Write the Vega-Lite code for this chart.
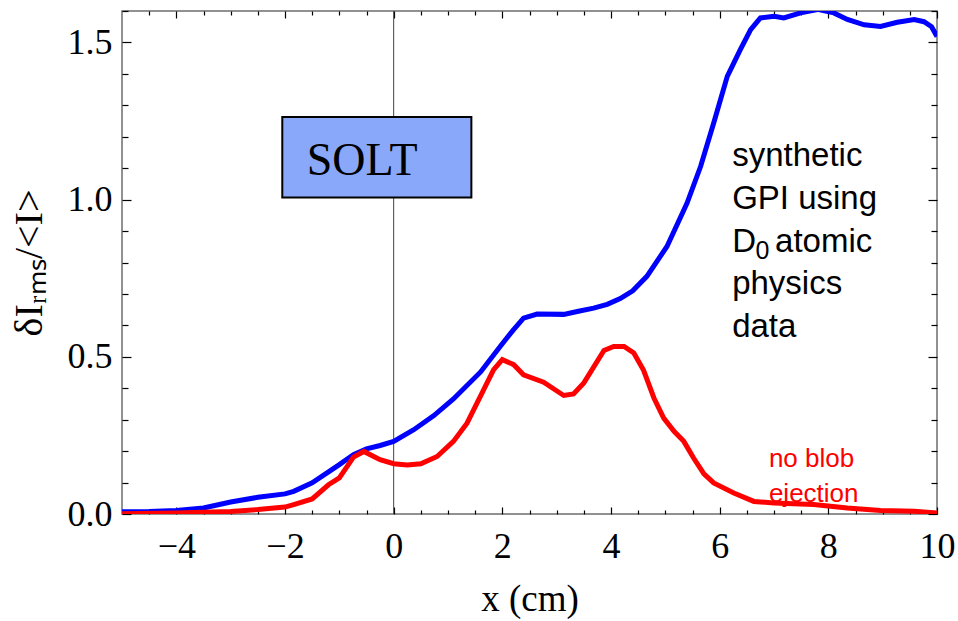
{
  "$schema": "https://vega.github.io/schema/vega-lite/v6.json",
  "width": 815,
  "height": 503,
  "autosize": {"type": "none"},
  "padding": {"left": 122, "top": 11, "right": 21, "bottom": 107},
  "background": "white",
  "config": {
    "view": {"stroke": "#6e6e6e", "strokeWidth": 1.5},
    "axis": {
      "domain": false,
      "grid": false,
      "tickColor": "black",
      "tickWidth": 1.2,
      "labelFont": "Liberation Serif",
      "labelFontSize": 36,
      "labelColor": "black",
      "titleFont": "Liberation Serif",
      "titleFontWeight": "normal",
      "titleColor": "black"
    }
  },
  "datasets": {
    "with_blobs": [
      {"x": -5, "y": 0.007}, {"x": -4.5, "y": 0.008}, {"x": -4, "y": 0.011},
      {"x": -3.5, "y": 0.019}, {"x": -3, "y": 0.038}, {"x": -2.5, "y": 0.053},
      {"x": -2, "y": 0.064}, {"x": -1.84, "y": 0.072}, {"x": -1.5, "y": 0.099},
      {"x": -1.0, "y": 0.157}, {"x": -0.74, "y": 0.189}, {"x": -0.5, "y": 0.207},
      {"x": -0.25, "y": 0.218}, {"x": 0, "y": 0.231}, {"x": 0.37, "y": 0.268},
      {"x": 0.74, "y": 0.313}, {"x": 1.1, "y": 0.366}, {"x": 1.6, "y": 0.452},
      {"x": 1.96, "y": 0.533}, {"x": 2.2, "y": 0.585}, {"x": 2.39, "y": 0.623},
      {"x": 2.64, "y": 0.636}, {"x": 3.13, "y": 0.635}, {"x": 3.4, "y": 0.645},
      {"x": 3.68, "y": 0.655}, {"x": 3.93, "y": 0.667}, {"x": 4.17, "y": 0.685},
      {"x": 4.4, "y": 0.71}, {"x": 4.66, "y": 0.756}, {"x": 5.03, "y": 0.851},
      {"x": 5.4, "y": 0.989}, {"x": 5.65, "y": 1.106}, {"x": 5.89, "y": 1.244},
      {"x": 6.14, "y": 1.392}, {"x": 6.38, "y": 1.477}, {"x": 6.57, "y": 1.541},
      {"x": 6.75, "y": 1.578}, {"x": 7.0, "y": 1.583}, {"x": 7.18, "y": 1.578},
      {"x": 7.49, "y": 1.594}, {"x": 7.8, "y": 1.605}, {"x": 8.1, "y": 1.594},
      {"x": 8.35, "y": 1.573}, {"x": 8.66, "y": 1.556}, {"x": 8.96, "y": 1.551},
      {"x": 9.27, "y": 1.564}, {"x": 9.58, "y": 1.573}, {"x": 9.76, "y": 1.566},
      {"x": 9.9, "y": 1.55}, {"x": 10, "y": 1.519}
    ],
    "no_blobs": [
      {"x": -5, "y": 0.001}, {"x": -4, "y": 0.003}, {"x": -3, "y": 0.008},
      {"x": -2.5, "y": 0.014}, {"x": -2, "y": 0.022}, {"x": -1.84, "y": 0.03},
      {"x": -1.5, "y": 0.048}, {"x": -1.2, "y": 0.093}, {"x": -1.0, "y": 0.115},
      {"x": -0.74, "y": 0.181}, {"x": -0.55, "y": 0.199}, {"x": -0.25, "y": 0.173},
      {"x": 0, "y": 0.16}, {"x": 0.25, "y": 0.156}, {"x": 0.5, "y": 0.16},
      {"x": 0.8, "y": 0.183}, {"x": 1.1, "y": 0.231}, {"x": 1.35, "y": 0.289},
      {"x": 1.6, "y": 0.376}, {"x": 1.84, "y": 0.459}, {"x": 2.0, "y": 0.491},
      {"x": 2.21, "y": 0.475}, {"x": 2.39, "y": 0.443}, {"x": 2.76, "y": 0.419},
      {"x": 3.13, "y": 0.377}, {"x": 3.31, "y": 0.382}, {"x": 3.5, "y": 0.417},
      {"x": 3.87, "y": 0.52}, {"x": 4.05, "y": 0.533}, {"x": 4.24, "y": 0.533},
      {"x": 4.42, "y": 0.512}, {"x": 4.6, "y": 0.457}, {"x": 4.79, "y": 0.369},
      {"x": 4.97, "y": 0.305}, {"x": 5.16, "y": 0.263}, {"x": 5.34, "y": 0.231},
      {"x": 5.52, "y": 0.178}, {"x": 5.71, "y": 0.128}, {"x": 5.89, "y": 0.099},
      {"x": 6.26, "y": 0.067}, {"x": 6.63, "y": 0.04}, {"x": 7.0, "y": 0.035},
      {"x": 7.73, "y": 0.03}, {"x": 8.35, "y": 0.019}, {"x": 8.96, "y": 0.011},
      {"x": 9.58, "y": 0.009}, {"x": 10, "y": 0.003}
    ],
    "notes": [
      {"role": "sans", "x": 6.23, "y": 1.106, "text": "synthetic"},
      {"role": "sans", "x": 6.23, "y": 0.97, "text": "GPI using"},
      {"role": "sans", "x": 6.23, "y": 0.834, "text": "D"},
      {"role": "sub", "x": 6.66, "y": 0.812, "text": "0"},
      {"role": "sans", "x": 7.02, "y": 0.834, "text": "atomic"},
      {"role": "sans", "x": 6.23, "y": 0.699, "text": "physics"},
      {"role": "sans", "x": 6.23, "y": 0.563, "text": "data"},
      {"role": "red", "x": 6.906, "y": 0.151, "text": "no blob"},
      {"role": "red", "x": 6.906, "y": 0.038, "text": "ejection"},
      {"role": "box", "x": -1.6, "y": 1.077, "text": "SOLT"}
    ],
    "box": [{"x1": -2.05, "x2": 1.43, "y1": 1.007, "y2": 1.263}],
    "origin": [{"x": 0}]
  },
  "resolve": {"axis": {"x": "independent", "y": "independent"}},
  "layer": [
    {
      "data": {"name": "origin"},
      "mark": {"type": "rule", "color": "#444444", "strokeWidth": 1},
      "encoding": {"x": {"field": "x", "type": "quantitative", "axis": null}}
    },
    {
      "data": {"name": "with_blobs"},
      "mark": {"type": "line", "color": "#0000ff", "strokeWidth": 5, "clip": true},
      "encoding": {
        "x": {
          "field": "x", "type": "quantitative",
          "scale": {"domain": [-5, 10], "nice": false, "zero": false},
          "axis": {
            "orient": "bottom",
            "values": [-4, -2, 0, 2, 4, 6, 8, 10],
            "format": "d",
            "tickSize": -7,
            "labelPadding": 22,
            "labelFlush": false,
            "title": "x (cm)",
            "titleFontSize": 37,
            "titlePadding": 17
          }
        },
        "y": {
          "field": "y", "type": "quantitative",
          "scale": {"domain": [0, 1.6], "nice": false, "zero": false},
          "axis": {
            "orient": "left",
            "values": [0, 0.5, 1.0, 1.5],
            "format": ".1f",
            "tickSize": -9,
            "labelPadding": 19,
            "labelFlush": false,
            "title": "δIᵣₘₛ/<I>",
            "titleFontSize": 40,
            "titlePadding": 18
          }
        }
      }
    },
    {
      "data": {"name": "no_blobs"},
      "mark": {"type": "line", "color": "#ff0000", "strokeWidth": 5, "clip": true},
      "encoding": {
        "x": {
          "field": "x", "type": "quantitative",
          "axis": {
            "orient": "top",
            "values": [-4, -2, 0, 2, 4, 6, 8, 10],
            "labels": false,
            "tickSize": -7,
            "title": null
          }
        },
        "y": {
          "field": "y", "type": "quantitative",
          "axis": {
            "orient": "right",
            "values": [0, 0.5, 1.0, 1.5],
            "labels": false,
            "tickSize": -9,
            "title": null
          }
        }
      }
    },
    {
      "data": {"name": "box"},
      "mark": {"type": "rect", "fill": "#8aa8fa", "stroke": "black", "strokeWidth": 2},
      "encoding": {
        "x": {
          "field": "x1", "type": "quantitative",
          "axis": {
            "orient": "bottom",
            "values": [-4.5, -3.5, -3, -2.5, -1.5, -1, -0.5, 0.5, 1, 1.5, 2.5, 3, 3.5, 4.5, 5, 5.5, 6.5, 7, 7.5, 8.5, 9, 9.5],
            "labels": false,
            "tickSize": -4,
            "title": null
          }
        },
        "x2": {"field": "x2"},
        "y": {
          "field": "y1", "type": "quantitative",
          "axis": {
            "orient": "left",
            "values": [0.1, 0.2, 0.3, 0.4, 0.6, 0.7, 0.8, 0.9, 1.1, 1.2, 1.3, 1.4, 1.6],
            "labels": false,
            "tickSize": -6,
            "title": null
          }
        },
        "y2": {"field": "y2"}
      }
    },
    {
      "data": {"name": "notes"},
      "transform": [{"filter": "datum.role === 'box'"}],
      "mark": {"type": "text", "font": "Liberation Serif", "fontSize": 46, "align": "left", "baseline": "alphabetic", "color": "black"},
      "encoding": {
        "x": {"field": "x", "type": "quantitative", "axis": null},
        "y": {"field": "y", "type": "quantitative", "axis": null},
        "text": {"field": "text"}
      }
    },
    {
      "data": {"name": "notes"},
      "transform": [{"filter": "datum.role === 'sans'"}],
      "mark": {"type": "text", "font": "Liberation Sans", "fontSize": 33, "align": "left", "baseline": "alphabetic", "color": "black"},
      "encoding": {
        "x": {
          "field": "x", "type": "quantitative",
          "axis": {
            "orient": "top",
            "values": [-4.5, -3.5, -3, -2.5, -1.5, -1, -0.5, 0.5, 1, 1.5, 2.5, 3, 3.5, 4.5, 5, 5.5, 6.5, 7, 7.5, 8.5, 9, 9.5],
            "labels": false,
            "tickSize": -4,
            "title": null
          }
        },
        "y": {
          "field": "y", "type": "quantitative",
          "axis": {
            "orient": "right",
            "values": [0.1, 0.2, 0.3, 0.4, 0.6, 0.7, 0.8, 0.9, 1.1, 1.2, 1.3, 1.4, 1.6],
            "labels": false,
            "tickSize": -6,
            "title": null
          }
        },
        "text": {"field": "text"}
      }
    },
    {
      "data": {"name": "notes"},
      "transform": [{"filter": "datum.role === 'sub'"}],
      "mark": {"type": "text", "font": "Liberation Sans", "fontSize": 25, "align": "left", "baseline": "alphabetic", "color": "black"},
      "encoding": {
        "x": {"field": "x", "type": "quantitative", "axis": null},
        "y": {"field": "y", "type": "quantitative", "axis": null},
        "text": {"field": "text"}
      }
    },
    {
      "data": {"name": "notes"},
      "transform": [{"filter": "datum.role === 'red'"}],
      "mark": {"type": "text", "font": "Liberation Sans", "fontSize": 26, "align": "left", "baseline": "alphabetic", "color": "#ff0000"},
      "encoding": {
        "x": {"field": "x", "type": "quantitative", "axis": null},
        "y": {"field": "y", "type": "quantitative", "axis": null},
        "text": {"field": "text"}
      }
    }
  ]
}
